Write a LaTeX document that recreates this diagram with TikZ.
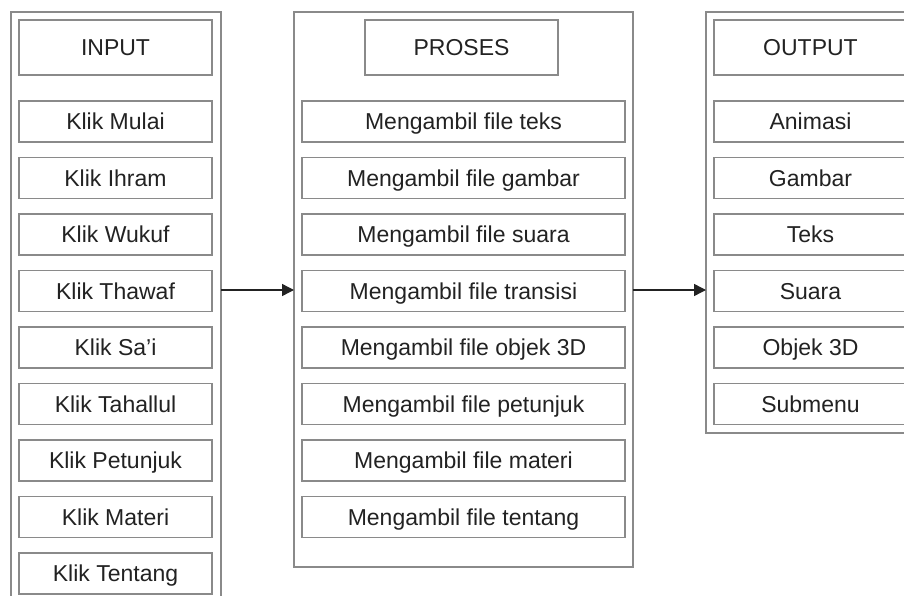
\documentclass[tikz,border=0pt]{standalone}
\usepackage{fontspec}
\setmainfont{Liberation Sans}
\usetikzlibrary{arrows.meta}
\definecolor{boxgray}{HTML}{8A8A8A}
\definecolor{txt}{HTML}{222222}
\tikzset{
  frame/.style={draw=boxgray, line width=1.4pt, rectangle, inner sep=0pt, outer sep=0pt},
  item/.style={draw=boxgray, line width=1.4pt, rectangle, inner sep=0pt, outer sep=0pt,
    minimum height=41pt, text=txt, font=\fontsize{23}{27}\selectfont,
    text height=21.5pt, text depth=5pt},
  leftitem/.style={item, minimum width=193pt},
  miditem/.style={item, minimum width=323pt},
  arr/.style={draw=txt, line width=1.4pt, -{Triangle[length=12pt,width=12pt]}}
}
\begin{document}
\begin{tikzpicture}[x=1pt,y=-1pt]
\useasboundingbox (0,0) rectangle (904,596);
\clip (0,0) rectangle (904,596);
\fill[white] (0,0) rectangle (904,596);
% frames
\node[frame, minimum width=210pt, minimum height=608pt] (inframe) at (116,316) {};
\node[frame, minimum width=339pt, minimum height=555pt] (procframe) at (463.5,289.5) {};
\node[frame, minimum width=210pt, minimum height=421pt] (outframe) at (811,222.5) {};
% headers
\node[item, minimum width=193pt, minimum height=55pt] (hin) at (115.5,47.5) {INPUT};
\node[item, minimum width=193pt, minimum height=55pt] (hproc) at (461.5,47.5) {PROSES};
\node[item, minimum width=193pt, minimum height=55pt] (hout) at (810.5,47.5) {OUTPUT};
% input items
\foreach \i/\t in {0/Klik Mulai,1/Klik Ihram,2/Klik Wukuf,3/Klik Thawaf,4/Klik Sa’i,5/Klik Tahallul,6/Klik Petunjuk,7/Klik Materi,8/Klik Tentang}
  \node[leftitem] (in\i) at (115.5,121.5+56.5*\i) {\t};
% process items
\foreach \i/\t in {0/Mengambil file teks,1/Mengambil file gambar,2/Mengambil file suara,3/Mengambil file transisi,4/Mengambil file objek 3D,5/Mengambil file petunjuk,6/Mengambil file materi,7/Mengambil file tentang}
  \node[miditem] (pr\i) at (463.5,121.5+56.5*\i) {\t};
% output items
\foreach \i/\t in {0/Animasi,1/Gambar,2/Teks,3/Suara,4/Objek 3D,5/Submenu}
  \node[leftitem] (out\i) at (810.5,121.5+56.5*\i) {\t};
% arrows
\coordinate (arrowy) at (0,290);
\draw[arr] (inframe.east |- arrowy) -- (procframe.west |- arrowy);
\draw[arr] (procframe.east |- arrowy) -- (outframe.west |- arrowy);
\end{tikzpicture}
\end{document}
